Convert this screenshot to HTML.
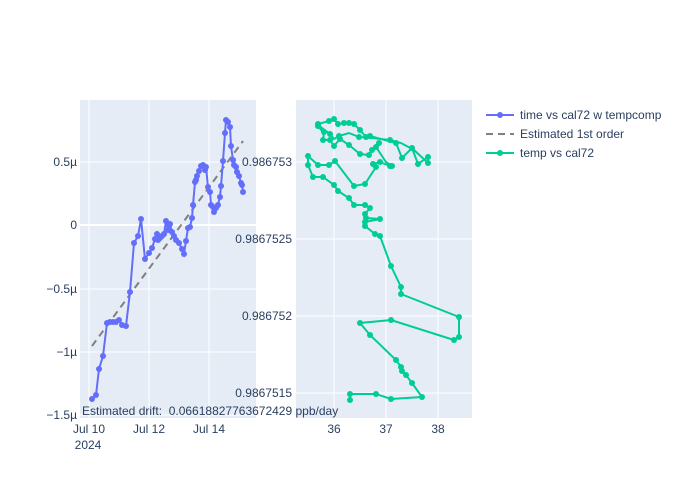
<!DOCTYPE html>
<html><head><meta charset="utf-8"><style>body{margin:0;background:#fff}svg{display:block;font-family:"Liberation Sans",sans-serif}</style></head><body>
<svg width="700" height="500" viewBox="0 0 700 500">
<rect width="700" height="500" fill="#fff"/>
<rect x="80" y="100" width="176" height="318" fill="#e5ecf6"/>
<rect x="296" y="100" width="176" height="318" fill="#e5ecf6"/>
<g stroke="#fff" stroke-width="1">
<line x1="89" y1="100" x2="89" y2="418"/><line x1="149" y1="100" x2="149" y2="418"/><line x1="209" y1="100" x2="209" y2="418"/>
<line x1="80" y1="162" x2="256" y2="162"/><line x1="80" y1="289" x2="256" y2="289"/><line x1="80" y1="352" x2="256" y2="352"/><line x1="80" y1="415" x2="256" y2="415"/>
<line x1="80" y1="225" x2="256" y2="225" stroke-width="2"/>
<line x1="334" y1="100" x2="334" y2="418"/><line x1="386" y1="100" x2="386" y2="418"/><line x1="438" y1="100" x2="438" y2="418"/>
<line x1="296" y1="162" x2="472" y2="162"/><line x1="296" y1="239" x2="472" y2="239"/><line x1="296" y1="316" x2="472" y2="316"/><line x1="296" y1="393" x2="472" y2="393"/>
</g>
<g font-size="12" fill="#2a3f5f" text-anchor="end">
<text x="77" y="166">0.5µ</text><text x="77" y="229">0</text><text x="77" y="293">−0.5µ</text><text x="77" y="356">−1µ</text><text x="77" y="419">−1.5µ</text>
<text x="292" y="166">0.986753</text><text x="292" y="243">0.9867525</text><text x="292" y="320">0.986752</text><text x="292" y="397">0.9867515</text>
</g>
<g font-size="12" fill="#2a3f5f" text-anchor="middle">
<text x="89" y="433">Jul 10</text><text x="88" y="449">2024</text><text x="149" y="433">Jul 12</text><text x="209" y="433">Jul 14</text>
<text x="334" y="433">36</text><text x="386" y="433">37</text><text x="438" y="433">38</text>
</g>
<line x1="92" y1="346" x2="243" y2="141" stroke="#808080" stroke-width="2" stroke-dasharray="7,5"/>
<polyline fill="none" stroke="#636efa" stroke-width="2" points="92,399 96,395 99,369 103,356 107,323 110,322 113,322 116,322 119,320 122,325 126,326 130,292 134,243 138,236 141,219 145,259 149,253 152,248 155,239 157,234 158,240 160,238 162,236 164,234 166,221 168,230 170,224 172,232 174,236 176,240 179,243 182,249 184,254 186,241 188,228 190,227 192,218 193,205 195,182 196,180 197,176 199,171 201,166 203,165 205,170 206,167 208,187 210,192 211,205 213,207 214,212 216,208 218,205 220,197 221,186 223,161 225,133 226,120 228,122 230,127 231,146 233,160 234,165 236,167 237,172 239,176 241,183 242,185 243,192"/>
<g fill="#636efa">
<circle cx="92" cy="399" r="3"/><circle cx="96" cy="395" r="3"/><circle cx="99" cy="369" r="3"/><circle cx="103" cy="356" r="3"/><circle cx="107" cy="323" r="3"/><circle cx="110" cy="322" r="3"/><circle cx="113" cy="322" r="3"/><circle cx="116" cy="322" r="3"/><circle cx="119" cy="320" r="3"/><circle cx="122" cy="325" r="3"/><circle cx="126" cy="326" r="3"/><circle cx="130" cy="292" r="3"/><circle cx="134" cy="243" r="3"/><circle cx="138" cy="236" r="3"/><circle cx="141" cy="219" r="3"/><circle cx="145" cy="259" r="3"/><circle cx="149" cy="253" r="3"/><circle cx="152" cy="248" r="3"/><circle cx="155" cy="239" r="3"/><circle cx="157" cy="234" r="3"/><circle cx="158" cy="240" r="3"/><circle cx="160" cy="238" r="3"/><circle cx="162" cy="236" r="3"/><circle cx="164" cy="234" r="3"/><circle cx="166" cy="221" r="3"/><circle cx="168" cy="230" r="3"/><circle cx="170" cy="224" r="3"/><circle cx="172" cy="232" r="3"/><circle cx="174" cy="236" r="3"/><circle cx="176" cy="240" r="3"/><circle cx="179" cy="243" r="3"/><circle cx="182" cy="249" r="3"/><circle cx="184" cy="254" r="3"/><circle cx="186" cy="241" r="3"/><circle cx="188" cy="228" r="3"/><circle cx="190" cy="227" r="3"/><circle cx="192" cy="218" r="3"/><circle cx="193" cy="205" r="3"/><circle cx="195" cy="182" r="3"/><circle cx="196" cy="180" r="3"/><circle cx="197" cy="176" r="3"/><circle cx="199" cy="171" r="3"/><circle cx="201" cy="166" r="3"/><circle cx="203" cy="165" r="3"/><circle cx="205" cy="170" r="3"/><circle cx="206" cy="167" r="3"/><circle cx="208" cy="187" r="3"/><circle cx="210" cy="192" r="3"/><circle cx="211" cy="205" r="3"/><circle cx="213" cy="207" r="3"/><circle cx="214" cy="212" r="3"/><circle cx="216" cy="208" r="3"/><circle cx="218" cy="205" r="3"/><circle cx="220" cy="197" r="3"/><circle cx="221" cy="186" r="3"/><circle cx="223" cy="161" r="3"/><circle cx="225" cy="133" r="3"/><circle cx="226" cy="120" r="3"/><circle cx="228" cy="122" r="3"/><circle cx="230" cy="127" r="3"/><circle cx="231" cy="146" r="3"/><circle cx="233" cy="160" r="3"/><circle cx="234" cy="165" r="3"/><circle cx="236" cy="167" r="3"/><circle cx="237" cy="172" r="3"/><circle cx="239" cy="176" r="3"/><circle cx="241" cy="183" r="3"/><circle cx="242" cy="185" r="3"/><circle cx="243" cy="192" r="3"/>
</g>
<polyline id="g" fill="none" stroke="#00cc96" stroke-width="2" points="350,400 350,394 376,394 391,399 422,397 412,383 406,375 402,371 401,367 396,360 370,335 360,323 391,320 454,340 459,337 459,317 401,294 401,287 391,266 380,236 375,234 365,226 365,222 380,219 366,218 365,214 370,208 365,205 354,205 349,198 338,191 334,185 323,177 313,177 308,165 308,156 318,165 329,165 335,161 354,186 365,184 376,167 373,164 380,162 390,166 392,166 386,162 376,147 379,143 372,150 369,155 360,154 349,145 340,139 334,146 330,140 323,140 324,132 322,131 318,126 318,124 329,121 334,119 338,124 344,123 349,123 354,124 360,130 366,137 370,136 396,143 402,158 412,148 418,164 428,157 428,163 414,150 401,143 390,140 372,138 359,137 349,133 339,136 334,139 330,134 318,125"/>
<g fill="#00cc96">
<circle cx="350" cy="400" r="3"/><circle cx="350" cy="394" r="3"/><circle cx="376" cy="394" r="3"/><circle cx="391" cy="399" r="3"/><circle cx="422" cy="397" r="3"/><circle cx="412" cy="383" r="3"/><circle cx="406" cy="375" r="3"/><circle cx="402" cy="371" r="3"/><circle cx="401" cy="367" r="3"/><circle cx="396" cy="360" r="3"/><circle cx="370" cy="335" r="3"/><circle cx="360" cy="323" r="3"/><circle cx="391" cy="320" r="3"/><circle cx="454" cy="340" r="3"/><circle cx="459" cy="337" r="3"/><circle cx="459" cy="317" r="3"/><circle cx="401" cy="294" r="3"/><circle cx="401" cy="287" r="3"/><circle cx="391" cy="266" r="3"/><circle cx="380" cy="236" r="3"/><circle cx="375" cy="234" r="3"/><circle cx="365" cy="226" r="3"/><circle cx="365" cy="222" r="3"/><circle cx="380" cy="219" r="3"/><circle cx="366" cy="218" r="3"/><circle cx="365" cy="214" r="3"/><circle cx="370" cy="208" r="3"/><circle cx="365" cy="205" r="3"/><circle cx="354" cy="205" r="3"/><circle cx="349" cy="198" r="3"/><circle cx="338" cy="191" r="3"/><circle cx="334" cy="185" r="3"/><circle cx="323" cy="177" r="3"/><circle cx="313" cy="177" r="3"/><circle cx="308" cy="165" r="3"/><circle cx="308" cy="156" r="3"/><circle cx="318" cy="165" r="3"/><circle cx="329" cy="165" r="3"/><circle cx="335" cy="161" r="3"/><circle cx="354" cy="186" r="3"/><circle cx="365" cy="184" r="3"/><circle cx="376" cy="167" r="3"/><circle cx="373" cy="164" r="3"/><circle cx="380" cy="162" r="3"/><circle cx="390" cy="166" r="3"/><circle cx="392" cy="166" r="3"/><circle cx="376" cy="147" r="3"/><circle cx="379" cy="143" r="3"/><circle cx="372" cy="150" r="3"/><circle cx="369" cy="155" r="3"/><circle cx="360" cy="154" r="3"/><circle cx="349" cy="145" r="3"/><circle cx="340" cy="139" r="3"/><circle cx="334" cy="146" r="3"/><circle cx="330" cy="140" r="3"/><circle cx="323" cy="140" r="3"/><circle cx="324" cy="132" r="3"/><circle cx="318" cy="126" r="3"/><circle cx="318" cy="124" r="3"/><circle cx="329" cy="121" r="3"/><circle cx="334" cy="119" r="3"/><circle cx="338" cy="124" r="3"/><circle cx="344" cy="123" r="3"/><circle cx="349" cy="123" r="3"/><circle cx="354" cy="124" r="3"/><circle cx="360" cy="130" r="3"/><circle cx="366" cy="137" r="3"/><circle cx="370" cy="136" r="3"/><circle cx="396" cy="143" r="3"/><circle cx="402" cy="158" r="3"/><circle cx="412" cy="148" r="3"/><circle cx="418" cy="164" r="3"/><circle cx="428" cy="157" r="3"/><circle cx="428" cy="163" r="3"/><circle cx="390" cy="140" r="3"/><circle cx="359" cy="137" r="3"/><circle cx="339" cy="136" r="3"/><circle cx="330" cy="134" r="3"/>
</g>
<text x="82" y="415" font-size="12" fill="#2a3f5f" xml:space="preserve">Estimated drift:  0.06618827763672429 ppb/day</text>
<g font-size="12" fill="#2a3f5f">
<line x1="486" y1="115" x2="514" y2="115" stroke="#636efa" stroke-width="2"/><circle cx="500" cy="115" r="3" fill="#636efa"/>
<text x="520" y="119">time vs cal72 w tempcomp</text>
<line x1="486" y1="134" x2="514" y2="134" stroke="#808080" stroke-width="2" stroke-dasharray="7,5"/>
<text x="520" y="138">Estimated 1st order</text>
<line x1="486" y1="153" x2="514" y2="153" stroke="#00cc96" stroke-width="2"/><circle cx="500" cy="153" r="3" fill="#00cc96"/>
<text x="520" y="157">temp vs cal72</text>
</g>
</svg>
</body></html>
